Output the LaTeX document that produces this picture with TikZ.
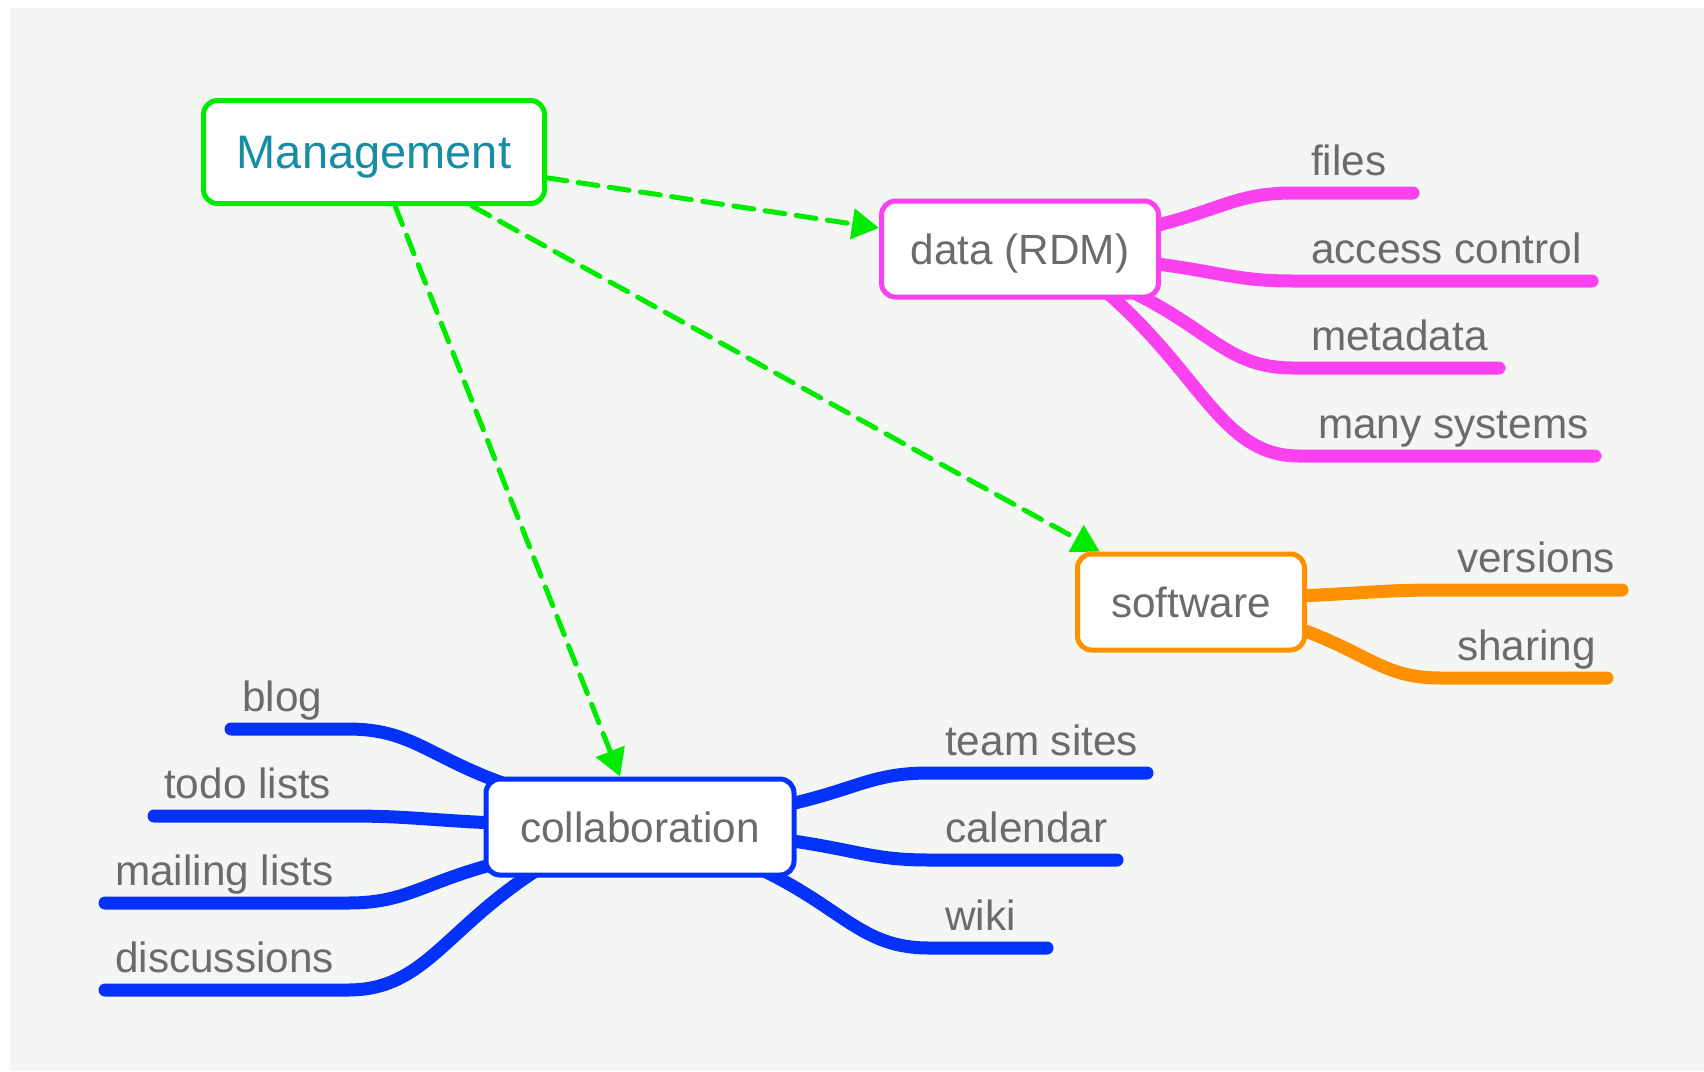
\documentclass[tikz,border=0pt]{standalone}
\usepackage{fontspec}
\setmainfont{Liberation Sans}
\usetikzlibrary{arrows.meta,backgrounds,calc}
\definecolor{bgc}{RGB}{244,246,243}
\definecolor{mgreen}{RGB}{0,235,0}
\definecolor{mteal}{RGB}{22,140,165}
\definecolor{mpink}{RGB}{250,65,240}
\definecolor{morange}{RGB}{255,145,0}
\definecolor{mblue}{RGB}{5,50,250}
\definecolor{mgray}{RGB}{107,107,107}
\newcommand\mmbranch[2]{%
  \draw[branch,#1] (#2S) .. controls ($(#2S)!0.5!(#2B)$) and ($(#2B)!0.4!(#2S |- #2B)$) .. (#2B) -- (#2E);}
\begin{document}
\begin{tikzpicture}[x=1pt,y=-1pt,
  topic/.style={draw, line width=5pt, rounded corners=14pt, fill=white, text=mgray,
    font=\fontsize{42.3}{50}\selectfont, text height=32pt, text depth=2pt, inner sep=0pt},
  leaf/.style={anchor=base west, text=mgray, font=\fontsize{42.3}{50}\selectfont, inner sep=0pt},
  branch/.style={line width=13pt, line cap=round},
  link/.style={draw=mgreen, line width=5pt, line cap=round, dash pattern=on 20pt off 11.5pt,
    -{Triangle[length=27pt,width=30pt,fill=mgreen]}}]
\useasboundingbox (0,0) rectangle (1704,1071);
% main topic nodes
\node[topic, draw=mgreen, text=mteal, font=\fontsize{47}{54}\selectfont, text height=34pt,
  minimum width=341pt, minimum height=103pt] (mgmt) at (374,152) {Management};
\node[topic, draw=mpink, minimum width=277pt, minimum height=96pt] (data) at (1020,249) {data (RDM)};
\node[topic, draw=morange, minimum width=227pt, minimum height=96pt] (soft) at (1191,602) {software};
\node[topic, draw=mblue, minimum width=308pt, minimum height=96pt] (coll) at (640,827) {collaboration};
% leaf labels
\node[leaf] (files) at (1311,175) {files};
\node[leaf] (access) at (1311,263) {access control};
\node[leaf] (meta) at (1311,350) {metadata};
\node[leaf] (many) at (1318,438) {many systems};
\node[leaf] (vers) at (1457,572) {versions};
\node[leaf] (shar) at (1457,660) {sharing};
\node[leaf] (team) at (945,755) {team sites};
\node[leaf] (cal) at (945,842) {calendar};
\node[leaf] (wiki) at (945,930) {wiki};
\node[leaf] (blog) at (242,711) {blog};
\node[leaf] (todo) at (164,798) {todo lists};
\node[leaf] (mail) at (115,885) {mailing lists};
\node[leaf] (disc) at (115,972) {discussions};
% branch coordinates: S start (under node), B bend, E end
\coordinate (filesS) at (1150,227); \coordinate (filesB) at (1293,193); \coordinate (filesE) at (1413,193);
\coordinate (accessS) at (1150,263); \coordinate (accessB) at (1293,281); \coordinate (accessE) at (1592,281);
\coordinate (metaS) at (1128,290); \coordinate (metaB) at (1293,368); \coordinate (metaE) at (1499,368);
\coordinate (manyS) at (1104,290); \coordinate (manyB) at (1299,456); \coordinate (manyE) at (1595,456);
\coordinate (versS) at (1297,596); \coordinate (versB) at (1440,590); \coordinate (versE) at (1622,590);
\coordinate (sharS) at (1297,628); \coordinate (sharB) at (1440,678); \coordinate (sharE) at (1607,678);
\coordinate (teamS) at (786,805); \coordinate (teamB) at (929,773); \coordinate (teamE) at (1147,773);
\coordinate (calS) at (786,840); \coordinate (calB) at (929,860); \coordinate (calE) at (1117,860);
\coordinate (wikiS) at (758,868); \coordinate (wikiB) at (929,948); \coordinate (wikiE) at (1047,948);
\coordinate (blogS) at (508,785); \coordinate (blogB) at (348,729); \coordinate (blogE) at (231,729);
\coordinate (todoS) at (494,823); \coordinate (todoB) at (348,816); \coordinate (todoE) at (154,816);
\coordinate (mailS) at (494,864); \coordinate (mailB) at (348,903); \coordinate (mailE) at (105,903);
\coordinate (discS) at (540,868); \coordinate (discB) at (348,990); \coordinate (discE) at (105,990);
\begin{pgfonlayer}{background}
  \fill[bgc] (10,8) rectangle (1704,1071);
  \mmbranch{mpink}{files}
  \mmbranch{mpink}{access}
  \mmbranch{mpink}{meta}
  \mmbranch{mpink}{many}
  \mmbranch{morange}{vers}
  \mmbranch{morange}{shar}
  \mmbranch{mblue}{team}
  \mmbranch{mblue}{cal}
  \mmbranch{mblue}{wiki}
  \mmbranch{mblue}{blog}
  \mmbranch{mblue}{todo}
  \mmbranch{mblue}{mail}
  \mmbranch{mblue}{disc}
\end{pgfonlayer}
% dashed links
\draw[link] (mgmt) -- (data);
\draw[link] (mgmt) -- (soft);
\draw[link] (mgmt) -- (coll);
\end{tikzpicture}
\end{document}
